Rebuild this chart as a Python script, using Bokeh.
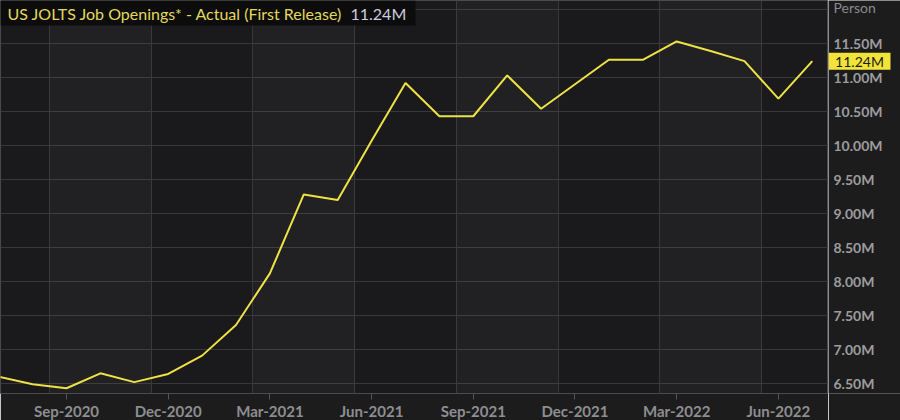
from bokeh.plotting import figure
from bokeh.models import FixedTicker, Label, BoxAnnotation, Range1d
from bokeh.layouts import row
from bokeh.core.properties import value
from bokeh.embed import file_html
from bokeh.resources import INLINE

# ---- data ----
months = ["Jul-2020", "Aug-2020", "Sep-2020", "Oct-2020", "Nov-2020", "Dec-2020",
          "Jan-2021", "Feb-2021", "Mar-2021", "Apr-2021", "May-2021", "Jun-2021",
          "Jul-2021", "Aug-2021", "Sep-2021", "Oct-2021", "Nov-2021", "Dec-2021",
          "Jan-2022", "Feb-2022", "Mar-2022", "Apr-2022", "May-2022", "Jun-2022",
          "Jul-2022"]
openings_m = [6.60, 6.49, 6.43, 6.65, 6.52, 6.64,
              6.91, 7.36, 8.12, 9.28, 9.20, 10.07,
              10.92, 10.43, 10.43, 11.03, 10.54, 10.90,
              11.26, 11.26, 11.53, 11.39, 11.24, 10.69,
              11.24]
x_tick_labels = ["Sep-2020", "Dec-2020", "Mar-2021", "Jun-2021",
                 "Sep-2021", "Dec-2021", "Mar-2022", "Jun-2022"]
y_tick_values = [6.5, 7.0, 7.5, 8.0, 8.5, 9.0, 9.5, 10.0, 10.5, 11.0, 11.5]
y_tick_labels = ["6.50M", "7.00M", "7.50M", "8.00M", "8.50M", "9.00M",
                 "9.50M", "10.00M", "10.50M", "11.00M", "11.50M"]
title_text = "US JOLTS Job Openings* - Actual (First Release)"
unit_text = "Person"

# ---- geometry ----
FW, FH = 828, 393
SIDE_W = 72
BOTTOM = 27
X0, X1 = 0.053, 24.478
Y0, Y1 = 6.353, 12.132

def xd(px):  # pixels from frame left -> data
    return X0 + px / FW * (X1 - X0)

def yd(py):  # pixels from frame top -> data
    return Y1 - py / FH * (Y1 - Y0)

x_idx = list(range(len(months)))
xticks = [months.index(m) for m in x_tick_labels]
grid_x = [t - 0.5 for t in xticks]

BG = "#1a191b"
BORDER = "#1c1c1d"
yr = Range1d(Y0, Y1)

p = figure(frame_width=FW, frame_height=FH, output_backend="svg", toolbar_location=None,
           x_range=(X0, X1), y_range=yr, y_axis_location=None,
           min_border_left=0, min_border_top=0, min_border_right=0, min_border_bottom=BOTTOM,
           background_fill_color=BG, border_fill_color=BORDER)
p.outline_line_color = "#4a4a4c"

# quarter bands
for i in range(0, len(grid_x), 2):
    left = grid_x[i]
    right = grid_x[i + 1] if i + 1 < len(grid_x) else None
    p.add_layout(BoxAnnotation(left=left, right=right, fill_color="#ffffff",
                               fill_alpha=0.032, line_color=None, level="underlay"))

p.xgrid.ticker = FixedTicker(ticks=grid_x)
p.ygrid.ticker = FixedTicker(ticks=y_tick_values + [12.0])
p.xgrid.grid_line_color = "#38373a"
p.ygrid.grid_line_color = "#38373a"

p.line(x_idx, openings_m, line_color="#eee244", line_width=2)

# x axis
xa = p.xaxis[0]
xa.ticker = FixedTicker(ticks=xticks)
xa.major_label_overrides = {t: m for t, m in zip(xticks, x_tick_labels)}
xa.axis_line_color = None
xa.major_tick_in = 0
xa.major_tick_out = 6
xa.major_tick_line_color = "#555557"
xa.minor_tick_line_color = None
xa.major_label_standoff = 2
xa.major_label_text_color = "#8e8e90"
xa.major_label_text_font = "Lato"
xa.major_label_text_font_style = "bold"
xa.major_label_text_font_size = "15px"

# title box
p.add_layout(BoxAnnotation(left=X0, right=xd(415), top=Y1, bottom=yd(25),
                           fill_color="#0c0c0d", fill_alpha=1, line_color=None))
p.add_layout(Label(x=X0, y=Y1, x_offset=7, y_offset=-13, text=title_text,
                   text_baseline="middle", text_color="#e2d95c", text_font="Lato",
                   text_font_size="16px"))
p.add_layout(Label(x=xd(350), y=Y1, y_offset=-13, text=f"{openings_m[-1]:.2f}M",
                   text_baseline="middle", text_color="#c9cfdc", text_font="Lato",
                   text_font_size="16px"))

# ---- right-hand value panel (shares the y range) ----
s = figure(frame_width=SIDE_W, frame_height=FH, output_backend="svg", toolbar_location=None,
           x_range=(0, SIDE_W), y_range=yr, x_axis_location=None, y_axis_location=None,
           min_border_left=0, min_border_top=0, min_border_right=0, min_border_bottom=BOTTOM,
           background_fill_color=BORDER, border_fill_color=BORDER)
s.outline_line_color = None
s.grid.visible = False

s.text(x=5, y=y_tick_values, text=y_tick_labels, text_baseline="middle", text_align="left",
       text_color="#9c9c9e", text_font=value("Lato"), text_font_style="bold",
       text_font_size="14px")

s.text(x=5, y=Y1, y_offset=-2, text=[unit_text], text_baseline="top", text_align="left",
       text_color="#8a8a8c", text_font=value("Lato"), text_font_size="14px")

# current value tag
s.rect(x=31, y=openings_m[-1], width=62, height=17, width_units="screen",
       height_units="screen", fill_color="#f2e33b", line_color=None)
s.text(x=31, y=[openings_m[-1]], text=[f"{openings_m[-1]:.2f}M"], text_baseline="middle",
       text_align="center", text_color="#1a1a1a", text_font=value("Lato"),
       text_font_size="14px")

layout = row(p, s)
open("out.html", "w").write(file_html(layout, INLINE))
